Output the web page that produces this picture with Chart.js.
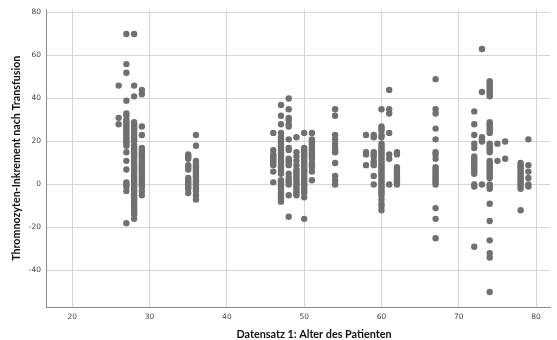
<!DOCTYPE html>
<html>
<head>
<meta charset="utf-8">
<script src="https://cdn.jsdelivr.net/npm/chart.js@4/dist/chart.umd.min.js"></script>
<style>
  html, body { margin: 0; padding: 0; background: #fff; }
  #wrap { width: 557px; height: 340px; }
</style>
</head>
<body>
<div id="wrap"><canvas id="scatter" width="557" height="340"></canvas></div>
<script>
// Alter des Patienten (x) und Thrombozyten-Inkrement (y)
const ageGroups = [26, 27, 28, 29, 35, 36, 46, 47, 48, 49, 50, 51, 54, 58, 59, 60, 61, 62, 67, 72, 73, 74, 75, 76, 78, 79];
const incrementsByAge = [
    [46, 31, 28],
    [70, 56, 52, 39, 33, 32, 30, 29, 28, 27, 26, 25, 24, 23, 22, 21, 20, 19, 18, 15, 11, 7, 1, 0, -1, -3, -18],
    [70, 46, 41, 29, 28, 27, 26, 25, 24, 23, 22, 21, 20, 18, 17, 16, 15, 14, 13, 12, 11, 10, 9, 8, 7, 6, 5, 4, 3, 2, 1, 0, -1, -2, -3, -4, -5, -6, -7, -8, -9, -10, -11, -12, -13, -14, -16],
    [44, 42, 27, 23, 17, 16, 15, 14, 13, 12, 11, 10, 9, 8, 7, 6, 5, 4, 3, 2, 1, 0, -1, -3, -5],
    [14, 13, 12, 9, 8, 7, 3, 2, 1, 0, -1, -2, -4],
    [23, 18, 11, 10, 9, 8, 7, 6, 5, 4, 3, 2, 1, 0, -1, -2, -3, -5, -7],
    [24, 16, 14, 13, 12, 11, 10, 9, 6, 1],
    [37, 32, 28, 24, 22, 21, 20, 19, 18, 17, 16, 15, 14, 13, 12, 11, 10, 9, 8, 7, 6, 5, 2, 1, 0, -1, -2, -3, -4, -5, -6, -7, -8],
    [40, 35, 31, 30, 28, 27, 21, 17, 16, 12, 11, 10, 9, 5, 3, 2, 1, 0, -5, -15],
    [22, 15, 13, 11, 9, 7, 6, 5, 4, 3, 2, 1, 0, -1, -2, -3, -4, -5],
    [24, 17, 16, 15, 14, 13, 12, 11, 10, 9, 8, 7, 6, 5, 4, 3, 2, 1, 0, -1, -2, -3, -4, -6, -16],
    [24, 21, 20, 19, 18, 17, 16, 15, 14, 13, 12, 10, 9, 8, 6, 2],
    [35, 32, 23, 21, 19, 17, 16, 15, 10, 4, 2, 0],
    [23, 15, 14, 9],
    [23, 22, 15, 14, 13, 11, 10, 9, 4, 0],
    [35, 27, 26, 25, 23, 22, 19, 18, 17, 16, 15, 14, 13, 12, 11, 10, 9, 8, 7, 6, 5, 4, 3, 2, 1, 0, -1, -2, -3, -4, -5, -7, -9, -10, -12],
    [44, 35, 33, 24, 14, 12, 0],
    [15, 14, 8, 7, 6, 5, 4, 3, 2, 1, 0],
    [49, 35, 33, 26, 21, 15, 14, 12, 8, 7, 6, 5, 4, 3, 2, 1, 0, -11, -16, -25],
    [34, 28, 23, 19, 17, 13, 12, 11, 10, 9, 8, 7, 6, 5, 0, -1, -29],
    [63, 43, 22, 21, 20, 0],
    [48, 47, 46, 45, 44, 43, 42, 41, 29, 28, 27, 26, 25, 24, 19, 18, 17, 16, 15, 11, 10, 9, 8, 7, 6, 5, 4, 3, 0, -1, -2, -9, -17, -26, -32, -34, -50],
    [19, 11],
    [20, 12],
    [10, 9, 8, 7, 6, 5, 4, 3, 2, 1, 0, -1, -2, -12],
    [21, 9, 6, 3, 0, -1]
];
const xTicks = [20, 30, 40, 50, 60, 70, 80];
const yTicks = [-40, -20, 0, 20, 40, 60, 80];
const xLabel = 'Datensatz 1: Alter des Patienten';
const yLabel = 'Thromnozyten-Inkrement nach Transfusion';

const points = [];
ageGroups.forEach((age, i) => {
    incrementsByAge[i].forEach(v => points.push({ x: age, y: v }));
});

const tickFont = { family: 'DejaVu Sans', size: 7.5 };

// SPSS setzt den x-Titel etwas rechts der Plotmitte
const xTitlePlugin = {
    id: 'xTitle',
    afterDraw: chart => {
        const ctx = chart.ctx;
        ctx.save();
        ctx.font = 'bold 10.8px Lato';
        ctx.fillStyle = '#111';
        ctx.textAlign = 'center';
        ctx.textBaseline = 'middle';
        ctx.fillText(xLabel, 314, 334.5);
        ctx.restore();
    }
};

new Chart(document.getElementById('scatter').getContext('2d'), {
    type: 'scatter',
    data: {
        datasets: [{
            data: points,
            backgroundColor: '#707070',
            borderWidth: 0,
            pointRadius: 3.2,
            pointHoverRadius: 3.2
        }]
    },
    options: {
        responsive: false,
        animation: false,
        layout: { padding: { top: 6, right: 7, left: 0, bottom: 0 } },
        plugins: { legend: { display: false }, tooltip: { enabled: false } },
        scales: {
            x: {
                type: 'linear',
                min: 16.6,
                max: 81.8,
                afterBuildTicks: axis => { axis.ticks = xTicks.map(v => ({ value: v })); },
                afterFit: axis => { axis.height = 33; },
                grid: { color: '#d6d6d6', drawTicks: false, lineWidth: 1 },
                border: { color: '#8a8a8a', width: 1 },
                ticks: { color: '#444', font: tickFont, padding: 6 },
                title: { display: false }
            },
            y: {
                type: 'linear',
                min: -57,
                max: 81.4,
                afterBuildTicks: axis => { axis.ticks = yTicks.map(v => ({ value: v })); },
                afterFit: axis => { axis.width = 46; },
                grid: { color: '#d6d6d6', drawTicks: false, lineWidth: 1 },
                border: { color: '#8a8a8a', width: 1 },
                ticks: { color: '#444', font: tickFont, padding: 5 },
                title: {
                    display: true, text: yLabel, color: '#111',
                    font: { family: 'Lato', size: 10.7, weight: 'bold' },
                    padding: { top: 10, bottom: 4 }
                }
            }
        }
    },
    plugins: [xTitlePlugin]
});
</script>
</body>
</html>
